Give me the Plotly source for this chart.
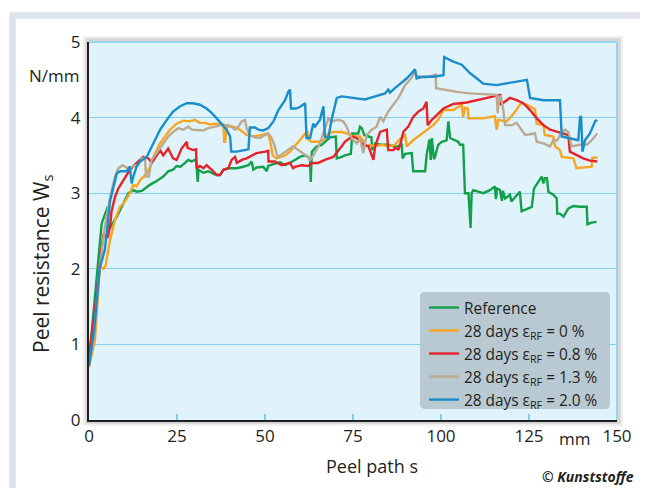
import plotly.graph_objects as go

# ---------------- data ----------------
ref_x = [0, 1.2, 2.65, 3.6, 5.3, 5.5, 7.9, 9.3, 11.2, 12.6, 13.5, 15.0, 15.9, 17.3, 19.2, 21.1, 22.5, 23.9, 24.9, 26.0,
         27.3, 28.2, 29.2, 30.4, 30.9, 31.1, 32.5, 33.9, 35.3, 36.3, 37.2, 38.2, 39.6, 42.0, 43.8, 45.3, 46.2, 46.7, 47.6,
         49.5, 50.5, 50.9, 52.8, 54.3, 55.7, 57.1, 58.5, 59.9, 61.4, 62.3, 62.8, 63.0, 63.3, 64.7, 66.1, 67.5, 68.5, 70.1,
         70.4, 71.8, 72.7, 74.4, 74.8, 76.5, 77.0, 77.5, 78.2, 79.4, 80.2, 80.5, 81.3, 83.2, 85.0, 86.5, 87.9, 88.8, 89.1,
         89.8, 91.7, 92.1, 95.5, 95.9, 96.7, 97.1, 97.4, 98.0, 98.3, 99.2, 100.2, 101.6, 102.1, 102.6, 104.0, 104.9, 105.4,
         106.3, 106.8, 107.8, 108.4, 108.7, 109.2, 110.6, 112.0, 113.9, 115.3, 115.6, 115.9, 116.8, 117.3, 117.6, 118.2,
         119.1, 119.6, 120.0, 121.5, 122.4, 122.9, 125.8, 126.4, 127.6, 128.6, 129.1, 129.5, 130.1, 130.5, 131.9, 132.9,
         133.0, 133.8, 134.8, 136.2, 137.6, 139.5, 141.4, 141.6, 142.8, 144.2]
ref_y = [0.77, 1.40, 2.12, 2.60, 2.82, 2.51, 2.69, 2.82, 3.00, 3.04, 3.02, 3.03, 3.06, 3.11, 3.16, 3.22, 3.29, 3.31, 3.36, 3.35,
         3.40, 3.44, 3.42, 3.45, 3.15, 3.31, 3.27, 3.29, 3.26, 3.24, 3.24, 3.31, 3.33, 3.33, 3.35, 3.37, 3.42, 3.31, 3.34,
         3.35, 3.29, 3.36, 3.39, 3.41, 3.37, 3.40, 3.44, 3.48, 3.50, 3.48, 3.44, 3.15, 3.55, 3.62, 3.64, 3.70, 3.74, 3.75,
         3.46, 3.48, 3.50, 3.52, 3.79, 3.79, 3.88, 3.86, 3.77, 3.75, 3.74, 3.57, 3.66, 3.64, 3.64, 3.62, 3.62, 3.66, 3.46,
         3.52, 3.53, 3.29, 3.29, 3.50, 3.71, 3.44, 3.73, 3.45, 3.48, 3.64, 3.68, 3.70, 3.95, 3.73, 3.70, 3.68, 3.64,
         3.64, 3.00, 3.00, 2.54, 3.00, 3.04, 3.02, 3.00, 3.04, 3.09, 2.92, 3.06, 3.04, 2.90, 3.03, 2.93,
         2.96, 2.98, 2.89, 2.98, 3.02, 2.76, 2.82, 3.06, 3.15, 3.22, 3.13, 3.20, 3.20, 3.02, 2.98, 2.93,
         2.73, 2.73, 2.69, 2.80, 2.83, 2.82, 2.82, 2.59, 2.61, 2.62]

d0_x = [0, 1.7, 3.1, 4.1, 4.7, 6.0, 7.4, 8.8, 10.2, 11.6, 12.6, 13.5, 14.5, 16.4, 17.3, 18.3, 20.2, 21.6, 23.0, 24.9, 26.8,
        28.7, 30.1, 31.5, 33.0, 34.4, 35.8, 38.2, 38.4, 38.7, 39.1, 41.0, 42.9, 44.8, 46.7, 49.1, 50.9, 51.5, 52.2, 53.3,
        54.3, 55.7, 57.1, 58.5, 59.9, 61.4, 62.0, 62.3, 63.3, 65.1, 66.6, 68.0, 69.4, 71.8, 73.2, 75.1, 77.0, 77.9, 78.4,
        79.8, 81.3, 83.2, 85.0, 86.9, 88.4, 89.8, 90.3, 92.1, 94.0, 96.4, 97.8, 99.2, 100.7, 103.5, 105.9, 106.3, 106.8,
        107.6, 107.8, 112.0, 115.3, 115.8, 116.3, 118.7, 120.6, 122.4, 122.9, 124.4, 125.8, 126.7, 127.2, 129.1, 129.5,
        131.9, 132.4, 133.8, 134.3, 137.6, 138.5, 142.8, 143.0, 144.4]
d0_y = [0.70, 1.06, 2.03, 2.00, 2.04, 2.38, 2.65, 2.82, 2.89, 3.00, 3.11, 3.09, 3.17, 3.26, 3.35, 3.48, 3.66, 3.75, 3.84, 3.92, 3.96,
        3.95, 3.97, 3.93, 3.93, 3.91, 3.92, 3.91, 3.68, 3.68, 3.88, 3.88, 3.84, 3.77, 3.75, 3.77, 3.79, 3.68, 3.50, 3.46,
        3.48, 3.50, 3.55, 3.62, 3.70, 3.79, 3.82, 3.71, 3.68, 3.68, 3.70, 3.79, 3.81, 3.81, 3.79, 3.75, 3.75, 3.70, 3.62,
        3.64, 3.62, 3.64, 3.62, 3.64, 3.72, 3.77, 3.62, 3.70, 3.77, 3.86, 3.90, 3.97, 4.10, 4.10, 4.17, 4.01, 4.13,
        4.12, 3.99, 3.99, 4.02, 3.84, 3.97, 3.95, 4.05, 4.17, 4.19, 4.17, 4.14, 4.11, 3.92, 3.90, 3.77,
        3.75, 3.62, 3.57, 3.48, 3.46, 3.33, 3.35, 3.47, 3.47]

d08_x = [0, 1.8, 3.4, 4.1, 5.3, 6.0, 6.4, 7.4, 8.3, 9.8, 11.6, 14.0, 15.4, 16.9, 17.8, 18.7, 20.2, 21.1, 22.5, 23.9, 24.9,
         26.3, 27.8, 28.0, 29.6, 30.4, 30.6, 31.5, 32.5, 33.4, 34.9, 36.3, 37.2, 38.2, 39.6, 40.5, 41.5, 42.0, 43.4, 44.8,
         46.2, 47.6, 50.0, 50.9, 51.0, 52.8, 54.7, 57.1, 58.0, 58.5, 60.4, 62.3, 63.3, 65.1, 67.0, 68.5, 69.4, 71.8, 72.7,
         74.1, 75.1, 77.0, 77.9, 79.4, 80.8, 81.3, 82.7, 84.6, 85.0, 86.5, 86.9, 87.9, 88.4, 89.3, 90.7, 92.1, 93.6, 95.0,
         95.9, 96.2, 97.4, 100.7, 103.5, 107.3, 111.1, 113.9, 116.8, 116.9, 119.6, 121.5, 123.4, 125.3, 127.2, 129.1,
         131.0, 133.8, 136.2, 136.6, 138.5, 140.4, 142.3, 144.4]
d08_y = [0.85, 1.50, 2.20, 2.45, 2.42, 2.56, 2.76, 2.95, 3.06, 3.17, 3.31, 3.42, 3.48, 3.46, 3.40, 3.46, 3.57, 3.50, 3.59, 3.46, 3.44,
         3.59, 3.68, 3.60, 3.57, 3.58, 3.33, 3.36, 3.33, 3.37, 3.31, 3.24, 3.24, 3.31, 3.33, 3.44, 3.48, 3.40, 3.44, 3.46,
         3.50, 3.53, 3.55, 3.56, 3.42, 3.42, 3.37, 3.40, 3.33, 3.35, 3.37, 3.36, 3.40, 3.40, 3.44, 3.46, 3.48, 3.62, 3.68,
         3.73, 3.75, 3.70, 3.64, 3.62, 3.44, 3.62, 3.81, 3.84, 3.57, 3.57, 3.60, 3.58, 3.64, 3.81, 3.88, 4.01, 4.08, 4.12,
         4.21, 3.90, 3.97, 4.12, 4.18, 4.20, 4.24, 4.27, 4.30, 4.17, 4.26, 4.23, 4.19, 4.10, 3.99, 3.90,
         3.84, 3.80, 3.77, 3.55, 3.50, 3.46, 3.43, 3.42]

d13_x = [0, 1.5, 3.0, 4.5, 6.0, 7.4, 8.3, 9.5, 11.0, 12.5, 14.0, 15.0, 15.9, 16.2, 17.0, 17.8, 19.2, 21.1, 22.5, 23.9, 25.4,
         26.8, 28.2, 29.2, 30.6, 32.5, 33.9, 35.8, 37.7, 39.6, 40.5, 41.5, 42.4, 43.4, 44.3, 44.8, 45.7, 47.2, 48.6, 50.0,
         50.9, 51.9, 52.8, 53.3, 53.8, 55.2, 56.6, 58.0, 59.5, 60.9, 62.3, 62.8, 64.0, 65.6, 67.0, 68.0, 68.9, 70.8, 72.2,
         73.2, 74.1, 75.1, 76.1, 77.0, 77.9, 78.9, 80.3, 81.7, 82.7, 83.6, 85.0, 86.5, 87.9, 88.8, 89.8, 91.7, 92.6, 93.1,
         93.6, 95.5, 97.8, 98.5, 98.6, 100.7, 104.5, 108.2, 112.0, 115.8, 116.1, 116.6, 117.0, 117.7, 118.2, 120.1, 121.5,
         123.9, 126.7, 127.2, 129.1, 131.0, 131.9, 133.0, 134.3, 135.2, 136.2, 137.1, 139.5, 141.4, 142.8, 144.4]
d13_y = [0.72, 1.15, 2.00, 2.55, 2.95, 3.22, 3.33, 3.37, 3.33, 3.36, 3.38, 3.46, 3.47, 3.22, 3.22, 3.44, 3.53, 3.66, 3.75, 3.81, 3.86,
         3.84, 3.88, 3.84, 3.84, 3.83, 3.86, 3.88, 3.90, 3.90, 3.88, 3.84, 3.88, 3.95, 3.97, 3.86, 3.77, 3.74, 3.73, 3.77,
         3.79, 3.73, 3.62, 3.52, 3.48, 3.53, 3.57, 3.62, 3.57, 3.53, 3.48, 3.44, 3.52, 3.66, 3.84, 3.99, 3.95, 3.97, 3.95,
         3.88, 3.77, 3.70, 3.66, 3.73, 3.53, 3.77, 3.84, 3.88, 4.01, 3.95, 4.08, 4.17, 4.26, 4.34, 4.43, 4.53, 4.63, 4.51,
         4.55, 4.53, 4.56, 4.57, 4.39, 4.37, 4.34, 4.32, 4.31, 4.30, 4.06, 4.28, 4.28, 4.10, 3.90, 3.90, 3.93,
         3.77, 3.79, 3.68, 3.66, 3.62, 3.70, 3.70, 3.81, 3.84, 3.81, 3.62, 3.64, 3.64, 3.70, 3.79]

d20_x = [0, 1.5, 3.0, 4.5, 6.0, 7.9, 8.8, 10.7, 11.6, 12.1, 12.6, 13.5, 14.5, 16.4, 18.3, 20.2, 22.1, 23.9, 25.9, 27.8, 29.6,
         31.5, 33.4, 34.9, 36.3, 37.7, 39.1, 40.1, 40.4, 42.0, 43.8, 45.3, 45.7, 47.2, 48.1, 49.5, 50.9, 52.4, 53.8, 55.7,
         56.6, 57.1, 57.4, 58.8, 59.9, 61.4, 61.8, 62.8, 63.7, 64.2, 65.6, 66.6, 67.0, 68.0, 68.9, 70.4, 71.8, 75.6, 78.4,
         81.3, 84.1, 85.0, 85.5, 86.9, 88.4, 90.3, 91.7, 92.6, 93.1, 95.0, 97.8, 100.7, 100.9, 103.5, 105.9, 108.2, 110.1,
         112.0, 115.8, 119.6, 122.4, 124.4, 125.3, 129.1, 133.8, 134.3, 136.2, 139.0, 139.5, 139.8, 140.2, 140.9, 142.3,
         143.8, 144.4]
d20_y = [0.72, 1.20, 2.00, 2.25, 2.90, 3.26, 3.29, 3.29, 3.35, 3.13, 3.22, 3.35, 3.42, 3.48, 3.66, 3.84, 3.97, 4.08, 4.15, 4.19, 4.19,
         4.17, 4.12, 4.06, 3.99, 3.92, 3.84, 3.75, 3.55, 3.55, 3.57, 3.58, 3.87, 3.87, 3.84, 3.83, 3.86, 3.95, 4.10, 4.23,
         4.34, 4.37, 4.12, 4.12, 4.14, 4.19, 3.73, 3.73, 3.92, 3.88, 3.97, 4.15, 3.75, 3.73, 3.97, 4.26, 4.28, 4.26, 4.24,
         4.28, 4.32, 4.37, 4.33, 4.39, 4.45, 4.52, 4.59, 4.64, 4.52, 4.54, 4.54, 4.56, 4.80, 4.74, 4.70, 4.59, 4.52,
         4.45, 4.43, 4.46, 4.48, 4.50, 4.26, 4.23, 4.23, 3.75, 3.73, 3.70, 4.01, 4.01, 3.55, 3.70, 3.79,
         3.95, 3.97]

series_names = ["Reference",
                "28 days ε<sub>RF</sub> = 0 %",
                "28 days ε<sub>RF</sub> = 0.8 %",
                "28 days ε<sub>RF</sub> = 1.3 %",
                "28 days ε<sub>RF</sub> = 2.0 %"]
series_colors = ["#12a04b", "#f8a61f", "#e4232b", "#bba991", "#1a8ecb"]
series_x = [ref_x, d0_x, d08_x, d13_x, d20_x]
series_y = [ref_y, d0_y, d08_y, d13_y, d20_y]

x_ticks = [0, 25, 50, 75, 100, 125, 150]
y_ticks = [0, 1, 2, 3, 4, 5]

# ---------------- figure ----------------
# The page body has an 8 px default margin, so the figure is drawn 8 px smaller
# and every target position (given in window pixels) is shifted by that offset.
OFF = 8
W, H = 648 - OFF, 488 - OFF
L, R, T, B = 89 - OFF, 31, 42 - OFF, 68
pw, ph = W - L - R, H - T - B


def px(xp):  # window pixel x -> paper coordinate
    return (xp - OFF - L) / pw


def py(yp):  # window pixel y -> paper coordinate
    return (H - B - (yp - OFF)) / ph


def rounded_rect(x0, y0, x1, y1, r):
    """Rounded rectangle path in paper coords, from window-pixel corners."""
    X0, X1 = px(x0), px(x1)
    Y0, Y1 = py(y1), py(y0)  # bottom, top
    rx, ry = r / pw, r / ph
    return (f"M {X0 + rx},{Y1} L {X1 - rx},{Y1} Q {X1},{Y1} {X1},{Y1 - ry} "
            f"L {X1},{Y0 + ry} Q {X1},{Y0} {X1 - rx},{Y0} "
            f"L {X0 + rx},{Y0} Q {X0},{Y0} {X0},{Y0 + ry} "
            f"L {X0},{Y1 - ry} Q {X0},{Y1} {X0 + rx},{Y1} Z")


FONT = "Open Sans"
TXT = "#231f20"

fig = go.Figure()
for name, col, xs, ys in zip(series_names, series_colors, series_x, series_y):
    fig.add_trace(go.Scatter(x=xs, y=ys, mode="lines", name=name,
                             line=dict(color=col, width=2.4)))

shapes = [
    # outer grey frame
    dict(type="rect", xref="paper", yref="paper", x0=px(12.5), x1=px(700), y0=py(540), y1=py(15.5),
         line=dict(color="#dde3e8", width=6.5), fillcolor="rgba(0,0,0,0)", layer="below"),
    # drop shadow around plot box
    dict(type="rect", xref="paper", yref="paper", x0=px(87), x1=px(619), y0=py(422), y1=py(40),
         line=dict(color="rgba(0,0,0,0.16)", width=3), fillcolor="rgba(0,0,0,0)", layer="below"),
    dict(type="rect", xref="paper", yref="paper", x0=px(84.5), x1=px(621.5), y0=py(424.5), y1=py(37.5),
         line=dict(color="rgba(0,0,0,0.06)", width=3), fillcolor="rgba(0,0,0,0)", layer="below"),
    # top and right light-blue border
    dict(type="line", xref="paper", yref="paper", x0=0, x1=1, y0=1, y1=1,
         line=dict(color="#7ccdee", width=1.5)),
    dict(type="line", xref="paper", yref="paper", x0=1, x1=1, y0=0, y1=1,
         line=dict(color="#7ccdee", width=1.5)),
    # rounded legend panel
    dict(type="path", xref="paper", yref="paper", path=rounded_rect(420, 292, 610, 409, 5),
         fillcolor="#b9c9d1", line=dict(width=0), layer="above"),
]

annotations = [
    dict(text="N/mm", xref="paper", yref="paper", x=px(82), y=py(75), xanchor="right", yanchor="middle",
         showarrow=False, font=dict(family=FONT, size=17, color=TXT)),
    dict(text="mm", xref="paper", yref="paper", x=px(574), y=py(438), xanchor="center", yanchor="middle",
         showarrow=False, font=dict(family=FONT, size=17, color=TXT)),
    dict(text="Peel resistance W<sub>s</sub>", xref="paper", yref="paper", x=px(42), y=py(264),
         xanchor="center", yanchor="middle", textangle=-90, showarrow=False,
         font=dict(family=FONT, size=21, color=TXT)),
    dict(text="Peel path s", xref="paper", yref="paper", x=px(372), y=py(466), xanchor="center",
         yanchor="middle", showarrow=False, font=dict(family=FONT, size=18, color=TXT)),
    dict(text="<b><i>© Kunststoffe</i></b>", xref="paper", yref="paper", x=px(636), y=py(476),
         xanchor="right", yanchor="middle", showarrow=False, font=dict(family=FONT, size=14, color=TXT)),
]

fig.update_layout(
    width=W, height=H,
    margin=dict(l=L, r=R, t=T, b=B, pad=0),
    paper_bgcolor="white",
    plot_bgcolor="#e0f2fa",
    font=dict(family=FONT, size=16, color=TXT),
    showlegend=True,
    legend=dict(x=px(424), xanchor="left", y=py(291), yanchor="top",
                bgcolor="rgba(0,0,0,0)", borderwidth=0, font=dict(family=FONT, size=15.4, color=TXT),
                itemwidth=30, tracegroupgap=0),
    shapes=shapes,
    annotations=annotations,
    xaxis=dict(range=[0, 150], tickvals=x_ticks, ticktext=[str(v) for v in x_ticks],
               showgrid=False, zeroline=False, showline=True, linecolor="#231f20", linewidth=2,
               ticks="inside", ticklen=6, tickcolor="#7ccdee", tickwidth=1.5,
               tickfont=dict(family=FONT, size=17, color=TXT), fixedrange=True),
    yaxis=dict(range=[0, 5], tickvals=y_ticks, ticktext=[str(v) for v in y_ticks],
               showgrid=True, gridcolor="#86cfee", gridwidth=1.3, zeroline=False,
               showline=True, linecolor="#231f20", linewidth=2, ticks="",
               ticklabelstandoff=3,
               tickfont=dict(family=FONT, size=17, color=TXT), fixedrange=True),
)

fig.write_html("out.html")
